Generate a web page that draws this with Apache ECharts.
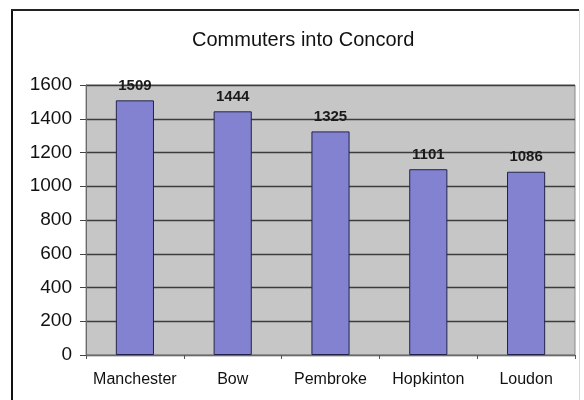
<!DOCTYPE html>
<html>
<head>
<meta charset="utf-8">
<style>
  html, body { margin: 0; padding: 0; background: #fff; }
  #chart { width: 584px; height: 400px; }
</style>
<script src="https://cdn.jsdelivr.net/npm/echarts@6/dist/echarts.min.js"></script>
</head>
<body>
<div id="chart"></div>
<script>
// Commuter counts by town of origin
const towns = ['Manchester', 'Bow', 'Pembroke', 'Hopkinton', 'Loudon'];
const commuters = [1509, 1444, 1325, 1101, 1086];
const titleText = 'Commuters into Concord';

const FONT = '"Liberation Sans", Arial, sans-serif';
const chart = echarts.init(document.getElementById('chart'), null, { renderer: 'canvas' });

chart.setOption({
  backgroundColor: '#ffffff',
  animation: false,
  title: {
    text: titleText,
    left: 187,
    top: 25,
    textStyle: { fontFamily: FONT, fontSize: 20, fontWeight: 'normal', color: '#111' }
  },
  grid: {
    left: 86, right: 9, top: 85, bottom: 45,
    show: true,
    backgroundColor: '#c6c6c6',
    borderColor: '#8a8a8a',
    borderWidth: 1
  },
  xAxis: {
    type: 'category',
    data: towns,
    axisLine: { lineStyle: { color: '#6a6a6a', width: 1 } },
    axisTick: { show: true, length: 4, lineStyle: { color: '#555' } },
    axisLabel: { interval: 0, fontFamily: FONT, fontSize: 16, color: '#111', margin: 17 }
  },
  yAxis: {
    type: 'value',
    min: 0, max: 1600, interval: 200,
    axisLine: { show: true, lineStyle: { color: '#6a6a6a', width: 1 } },
    axisTick: { show: true, length: 6, lineStyle: { color: '#444' } },
    axisLabel: {
      fontFamily: FONT, fontSize: 19, color: '#111', margin: 14,
      formatter: v => String(v)
    },
    splitLine: { show: true, lineStyle: { color: '#3c3c3c', width: 1.3 } }
  },
  series: [{
    type: 'bar',
    data: commuters,
    barCategoryGap: '61%',
    itemStyle: { color: '#8282d0', borderColor: '#23234a', borderWidth: 1 },
    label: {
      show: true,
      position: 'top',
      distance: 7,
      fontFamily: FONT,
      fontSize: 15,
      fontWeight: 'bold',
      color: '#1a1a1a'
    }
  }],
  graphic: [
    // chart frame: dark left and top edges, faint right edge
    { type: 'line', shape: { x1: 12, y1: 9, x2: 12, y2: 400 }, style: { stroke: '#111', lineWidth: 2 } },
    { type: 'line', shape: { x1: 11, y1: 10, x2: 579, y2: 10 }, style: { stroke: '#222', lineWidth: 2 } },
    { type: 'line', shape: { x1: 579.5, y1: 10, x2: 579.5, y2: 400 }, style: { stroke: '#d8d8d8', lineWidth: 1 } }
  ]
});
</script>
</body>
</html>
